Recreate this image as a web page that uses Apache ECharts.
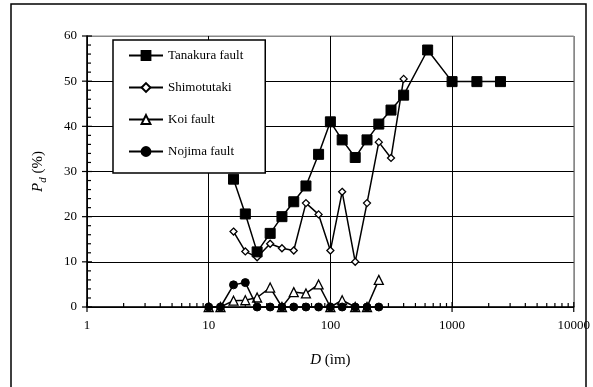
<!DOCTYPE html>
<html>
<head>
<meta charset="utf-8">
<script src="https://cdn.jsdelivr.net/npm/echarts@6/dist/echarts.min.js"></script>
<style>html,body{margin:0;padding:0;background:#fff;}#c{width:593px;height:387px;}</style>
</head>
<body>
<div id="c"></div>
<script>
// ---- data ----
const seriesNames = ['Tanakura fault', 'Shimotutaki', 'Koi fault', 'Nojima fault'];
const tanakuraD = [16, 20, 25, 32, 40, 50, 63, 80, 100, 125, 160, 200, 250, 315, 400, 630, 1000, 1600, 2500];
const tanakuraP = [28.3, 20.6, 12.2, 16.3, 20.0, 23.3, 26.8, 33.8, 41.0, 37.0, 33.1, 37.0, 40.5, 43.6, 46.9, 56.9, 49.9, 49.9, 49.9];
const shimoD = [16, 20, 25, 32, 40, 50, 63, 80, 100, 125, 160, 200, 250, 315, 400];
const shimoP = [16.7, 12.3, 11.0, 14.0, 13.0, 12.5, 23.0, 20.5, 12.5, 25.5, 10.0, 23.0, 36.5, 33.0, 50.5];
const koiD = [10, 12.5, 16, 20, 25, 32, 40, 50, 63, 80, 100, 125, 160, 200, 250];
const koiP = [0, 0, 1.4, 1.5, 2.1, 4.3, 0, 3.3, 3.0, 5.0, 0, 1.5, 0, 0, 6.0];
const nojimaD = [10, 12.5, 16, 20, 25, 32, 40, 50, 63, 80, 100, 125, 160, 200, 250];
const nojimaP = [0, 0, 4.9, 5.4, 0, 0, 0, 0, 0, 0, 0, 0, 0, 0, 0];
const xMajorTicks = [1, 10, 100, 1000, 10000];
const xMinorMultipliers = [2, 3, 4, 5, 6, 7, 8, 9];
const yMajorTicks = [0, 10, 20, 30, 40, 50, 60];
const yMinorTicks = [2, 4, 6, 8, 12, 14, 16, 18, 22, 24, 26, 28, 32, 34, 36, 38, 42, 44, 46, 48, 52, 54, 56, 58];

const zip = (a, b) => a.map((v, i) => [v, b[i]]);
const xTickData = [];
xMajorTicks.forEach(v => xTickData.push([v, 0, 1]));
xMajorTicks.slice(0, -1).forEach(d => xMinorMultipliers.forEach(m => xTickData.push([d * m, 0, 0])));
const yTickData = yMajorTicks.map(v => [1, v, 1]).concat(yMinorTicks.map(v => [1, v, 0]));

const serif = '"Liberation Serif", "DejaVu Serif", serif';
const chart = echarts.init(document.getElementById('c'), null, {renderer: 'canvas'});

function lineSeries(name, data, symbol, size, filled, z) {
  return {
    name, type: 'line', data, symbol, symbolSize: size, z,
    showAllSymbol: true,
    lineStyle: {color: '#000', width: 1.5},
    itemStyle: filled ? {color: '#000', borderColor: '#000', borderWidth: 1}
                      : {color: '#fff', borderColor: '#000', borderWidth: 1.3},
    emphasis: {disabled: true},
    animation: false
  };
}

const option = {
  animation: false,
  backgroundColor: '#fff',
  grid: {left: 87, right: 19, top: 36, bottom: 80, show: true, borderColor: '#888', borderWidth: 1},
  xAxis: {
    type: 'log', logBase: 10, min: 1, max: 10000,
    axisLine: {show: true, onZero: false, lineStyle: {color: '#000', width: 1.5}},
    axisTick: {show: false},
    minorTick: {show: false},
    splitLine: {show: true, lineStyle: {color: ['#000', '#000', '#000', '#000', '#888'], width: 1}},
    axisLabel: {fontFamily: serif, fontSize: 13, color: '#000', margin: 12, formatter: v => String(Math.round(v))},
    name: '{i|D} (ìm)', nameLocation: 'middle', nameGap: 46,
    nameTextStyle: {fontFamily: serif, fontSize: 15, color: '#000',
      rich: {i: {fontFamily: serif, fontSize: 15, fontStyle: 'italic', color: '#000'}}}
  },
  yAxis: {
    type: 'value', min: 0, max: 60, interval: 10,
    axisLine: {show: true, lineStyle: {color: '#000', width: 1.5}},
    axisTick: {show: false},
    splitLine: {show: true, lineStyle: {color: ['#000', '#000', '#000', '#000', '#000', '#000', '#888'], width: 1}},
    axisLabel: {fontFamily: serif, fontSize: 13, color: '#000', margin: 10},
    name: '{i|P}{s|d} (%)', nameLocation: 'middle', nameGap: 38, nameRotate: 90,
    nameTextStyle: {fontFamily: serif, fontSize: 15, color: '#000', lineHeight: 22,
      rich: {
        i: {fontFamily: serif, fontSize: 15, fontStyle: 'italic', color: '#000', lineHeight: 22, verticalAlign: 'middle'},
        s: {fontFamily: serif, fontSize: 11, fontStyle: 'italic', color: '#000', lineHeight: 10, verticalAlign: 'bottom'}
      }}
  },
  legend: {
    data: seriesNames, orient: 'vertical', left: 113, top: 40,
    padding: [9, 22, 15, 15], itemGap: 19, itemWidth: 34, itemHeight: 11,
    borderColor: '#000', borderWidth: 1.5, backgroundColor: '#fff',
    textStyle: {fontFamily: serif, fontSize: 13, color: '#000'},
    selectedMode: false, z: 10
  },
  series: [
    lineSeries(seriesNames[0], zip(tanakuraD, tanakuraP), 'rect', 10, true, 6),
    lineSeries(seriesNames[1], zip(shimoD, shimoP), 'diamond', 7, false, 5),
    lineSeries(seriesNames[2], zip(koiD, koiP), 'triangle', 9, false, 4),
    lineSeries(seriesNames[3], zip(nojimaD, nojimaP), 'circle', 8, true, 7),
    {
      type: 'custom', name: 'xticks', data: xTickData, silent: true, clip: false, z: 3,
      encode: {x: 0, y: 1},
      renderItem: function (params, api) {
        const p = api.coord([api.value(0), 0]);
        const major = api.value(2) === 1;
        return {type: 'line', shape: {x1: p[0], y1: p[1] - (major ? 5 : 4), x2: p[0], y2: p[1] + (major ? 5 : 0)},
          style: {stroke: '#000', lineWidth: 1.2}};
      }
    },
    {
      type: 'custom', name: 'yticks', data: yTickData, silent: true, clip: false, z: 3,
      encode: {x: 0, y: 1},
      renderItem: function (params, api) {
        const p = api.coord([1, api.value(1)]);
        const major = api.value(2) === 1;
        return {type: 'line', shape: {x1: p[0] - (major ? 5 : 0), y1: p[1], x2: p[0] + (major ? 5 : 4), y2: p[1]},
          style: {stroke: '#000', lineWidth: 1.2}};
      }
    }
  ],
  graphic: [
    {type: 'rect', shape: {x: 11, y: 4, width: 575, height: 400}, style: {fill: null, stroke: '#000', lineWidth: 1.5}, silent: true, z: 100}
  ]
};
chart.setOption(option);
</script>
</body>
</html>
